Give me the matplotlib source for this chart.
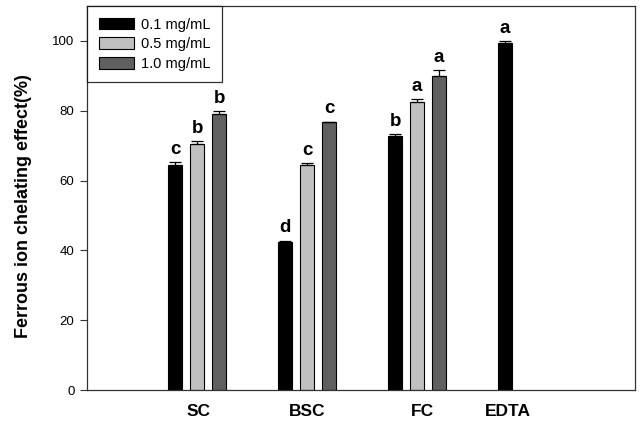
import matplotlib
matplotlib.use("Agg")
import matplotlib.pyplot as plt
import numpy as np

plt.rcParams['font.family'] = ['Liberation Sans', 'DejaVu Sans']

categories = ["SC", "BSC", "FC", "EDTA"]
series_names = ["0.1 mg/mL", "0.5 mg/mL", "1.0 mg/mL"]
vals_01 = [64.4, 42.3, 72.8, 99.3]
vals_05 = [70.6, 64.4, 82.4]
vals_10 = [79.0, 76.8, 90.0]
err_01 = [0.8, 0.5, 0.6, 0.7]
err_05 = [0.6, 0.5, 0.9]
err_10 = [1.0, 0.1, 1.6]
let_01 = ["c", "d", "b", "a"]
let_05 = ["b", "c", "a"]
let_10 = ["b", "c", "a"]
yticks = [0, 20, 40, 60, 80, 100]

colors = ["#000000", "#c0c0c0", "#606060"]
offsets = [-0.2, 0.0, 0.2]
width = 0.135

fig = plt.figure(figsize=(6.4, 4.22), dpi=100)
ax = fig.add_axes([0.136, 0.0758, 0.856, 0.910])

series = [(vals_01, err_01, let_01), (vals_05, err_05, let_05), (vals_10, err_10, let_10)]
for i, (v, e, l) in enumerate(series):
    x = np.arange(len(v)) + offsets[i]
    ax.bar(x, v, width, color=colors[i], edgecolor="#000000", linewidth=0.8,
           label=series_names[i], zorder=2)
    ax.errorbar(x, v, yerr=[np.zeros(len(e)), e], fmt="none", ecolor="#000000",
                elinewidth=0.9, capsize=4, capthick=0.9, zorder=3)
    for xi, vi, ei, li in zip(x, v, e, l):
        ax.annotate(li, (xi, vi + ei), xytext=(0, 3), textcoords="offset points",
                    ha="center", va="bottom", fontsize=13.5, fontweight="bold")

ax.set_xlim(-1.0, 3.98)
ax.set_ylim(0, 110)
ax.set_yticks(yticks)
ax.set_yticklabels([str(t) for t in yticks], fontsize=9.5)
ax.set_xticks([0.01, 1.0, 2.05, 2.83])
ax.set_xticklabels(categories, fontsize=12.5, fontweight="bold")
ax.tick_params(axis="x", length=0, pad=10)
ax.tick_params(axis="y", direction="out", length=5, width=0.8, colors="#333333", labelcolor="#000000", pad=4)
for s in ax.spines.values():
    s.set_color("#333333")
    s.set_linewidth(0.9)

ax.set_ylabel("Ferrous ion chelating effect(%)", fontsize=13, fontweight="bold")
ax.yaxis.set_label_coords(-0.1, 0.48)

leg = ax.legend(loc="upper left", fontsize=10.5, frameon=True, fancybox=False,
                edgecolor="#000000", borderaxespad=0, handlelength=2.4,
                handleheight=0.85, labelspacing=0.38, borderpad=0.8, handletextpad=0.5)
leg.get_frame().set_linewidth(0.9)

fig.savefig("out.png", dpi=100)
